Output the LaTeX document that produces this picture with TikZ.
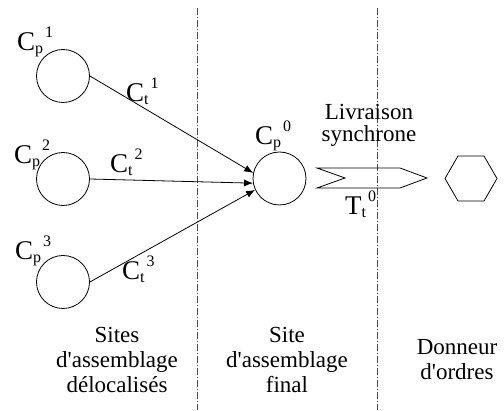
\documentclass[tikz,border=0pt]{standalone}
\usepackage{fontspec}
\setmainfont{Liberation Serif}
\newfontfamily\apfont{Liberation Serif}
\usetikzlibrary{shapes.geometric,arrows.meta,calc}
\newcommand{\lbl}[3]{\fontsize{27}{27}\selectfont #1\raisebox{-3pt}{\fontsize{16}{16}\selectfont #2}\hspace{2pt}\raisebox{13pt}{\fontsize{16}{16}\selectfont #3}}
\newcommand{\apos}{{\apfont '}}
\begin{document}
\begin{tikzpicture}[x=1pt,y=-1pt,
  circ/.style={draw,circle,minimum size=53pt,inner sep=0pt,line width=0.8pt},
  hex/.style={draw,regular polygon,regular polygon sides=6,minimum size=52pt,inner sep=0pt,line width=0.8pt},
  lab/.style={anchor=base west,inner sep=0pt},
  txt/.style={align=center,inner sep=0pt,anchor=base,font=\fontsize{23}{25}\selectfont},
  sep/.style={gray!60!black,line width=0.6pt,dash pattern=on 7pt off 2pt on 1pt off 2pt},
  arr/.style={-{Latex[length=9pt,width=7pt]},line width=0.8pt}]
\useasboundingbox (0,0) rectangle (504,411);
% separators
\coordinate (sa) at (197,8); \coordinate (sb) at (197,410);
\coordinate (sc) at (377,8); \coordinate (sd) at (377,410);
\draw[sep] (sa) -- (sb);
\draw[sep] (sc) -- (sd);
% circles
\node[circ] (p1) at (63,76) {};
\node[circ] (p2) at (63,179) {};
\node[circ] (p3) at (63,282) {};
\node[circ] (p0) at (279.5,178.5) {};
\node[hex] (h) at (471,178.5) {};
% labels
\node[lab] (lp1) at (17,51) {\lbl{C}{p}{1}};
\node[lab] (lp2) at (14,164) {\lbl{C}{p}{2}};
\node[lab] (lp3) at (15,260) {\lbl{C}{p}{3}};
\node[lab] (lp0) at (255,145) {\lbl{C}{p}{0}};
\node[lab] (lt1) at (126,102) {\lbl{C}{t}{1}};
\node[lab] (lt2) at (110,173) {\lbl{C}{t}{2}};
\node[lab] (lt3) at (122,280) {\lbl{C}{t}{3}};
\node[lab] (lt0) at (345,215) {\lbl{T}{t}{0}};
% arrows
\draw[arr] (p1.east) -- (p0.168);
\draw[arr] (p2.east) -- (p0.190);
\draw[arr] (p3.east) -- (p0.205);
% delivery chevron
\coordinate (c1) at (317,168);
\coordinate (c2) at (400,168);
\coordinate (c3) at (427,178);
\coordinate (c4) at (400,188);
\coordinate (c5) at (317,188);
\coordinate (c6) at (345,178);
\draw[line width=0.8pt] (c1) -- (c2) -- (c3) -- (c4) -- (c5) -- (c6) -- cycle;
% texts
\node[txt,font=\fontsize{23}{22}\selectfont] (liv) at (369,142) {Livraison\\synchrone};
\node[txt] (s1) at (117,393) {Sites\\d\apos assemblage\\délocalisés};
\node[txt] (s2) at (287,393) {Site\\d\apos assemblage\\final};
\node[txt] (s3) at (457,380) {Donneur\\d\apos ordres};
\end{tikzpicture}
\end{document}
